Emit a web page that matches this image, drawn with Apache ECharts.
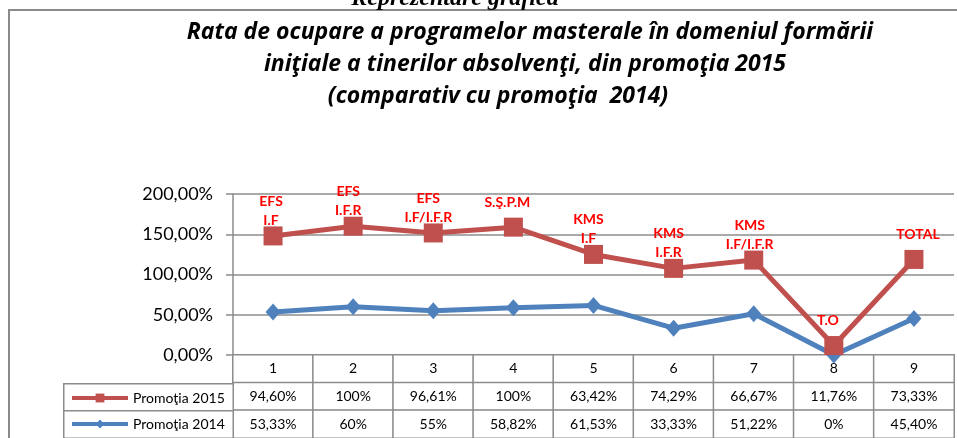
<!DOCTYPE html>
<html>
<head>
<meta charset="utf-8">
<script src="https://cdn.jsdelivr.net/npm/echarts@6/dist/echarts.min.js"></script>
<style>html,body{margin:0;padding:0;background:#fff;}#chart{width:957px;height:438px;}</style>
</head>
<body>
<div id="chart"></div>
<script>
// ---- data ----
const categories = ['1', '2', '3', '4', '5', '6', '7', '8', '9'];
const promotia2015 = [94.60, 100, 96.61, 100, 63.42, 74.29, 66.67, 11.76, 73.33];
const promotia2014 = [53.33, 60, 55, 58.82, 61.53, 33.33, 51.22, 0, 45.40];
const labels2015 = ['EFS\nI.F', 'EFS\nI.F.R', 'EFS\nI.F/I.F.R', 'S.Ş.P.M', 'KMS\nI.F', 'KMS\nI.F.R', 'KMS\nI.F/I.F.R', 'T.O', 'TOTAL'];
const seriesNames = ['Promoţia 2015', 'Promoţia 2014'];
const titleLines = [
  'Rata de ocupare a programelor masterale în domeniul formării',
  'iniţiale a tinerilor absolvenţi, din promoţia 2015',
  '(comparativ cu promoţia  2014)'
];
const headerText = 'Reprezentare grafică';

// ---- layout / style (not data) ----
const labelDx = [-2, -5, -5, -6, -5, -5, -4, -6, 4];
const RED = '#C0504D', BLUE = '#4F81BD', GRID = '#8c8c8c';
const FONT = 'Lato';
const TFONT = 'italic bold 23px "Open Sans"';

function fmtPct(v) {
  return (Number.isInteger(v) ? String(v) : v.toFixed(2).replace('.', ',')) + '%';
}

const tableData = [];
categories.forEach((c, i) => {
  tableData.push([i, 0, Number(c)]);
  tableData.push([i, 1, promotia2015[i]]);
  tableData.push([i, 2, promotia2014[i]]);
});

const chart = echarts.init(document.getElementById('chart'));
chart.setOption({
  animation: false,
  backgroundColor: '#fff',
  graphic: [
    { type: 'rect', shape: { x: 9, y: 10, width: 1000, height: 500 }, style: { fill: 'none', stroke: '#8a8a8a', lineWidth: 2 }, silent: true, z: 0 },
    { type: 'text', style: { text: headerText, x: 455, y: -1, textAlign: 'center', textVerticalAlign: 'middle', font: 'italic bold 24px "Liberation Serif"', fill: '#000' } },
    { type: 'text', style: { text: titleLines[0], x: 530, y: 32, textAlign: 'center', textVerticalAlign: 'middle', font: TFONT, fill: '#000' } },
    { type: 'text', style: { text: titleLines[1], x: 525, y: 64, textAlign: 'center', textVerticalAlign: 'middle', font: TFONT, fill: '#000' } },
    { type: 'text', style: { text: titleLines[2], x: 498, y: 96, textAlign: 'center', textVerticalAlign: 'middle', font: TFONT, fill: '#000' } }
  ],
  legend: {
    data: seriesNames,
    orient: 'vertical',
    left: 65,
    top: 386,
    height: 120,
    itemWidth: 56,
    itemHeight: 11,
    itemGap: 12,
    lineStyle: { width: 4 },
    textStyle: { fontFamily: FONT, fontSize: 14, color: '#000', lineHeight: 14 },
    selectedMode: false
  },
  grid: [
    { left: 233, right: 3, top: 194, height: 161 },
    { left: 233, right: 3, top: 355, height: 85 },
    { left: 64, width: 169, top: 384, height: 56 }
  ],
  xAxis: [
    { type: 'category', gridIndex: 0, data: categories, boundaryGap: true,
      axisLine: { show: true, lineStyle: { color: GRID, width: 1.5 } },
      axisTick: { show: false }, axisLabel: { show: false } },
    { type: 'category', gridIndex: 1, data: categories, show: false },
    { type: 'category', gridIndex: 2, data: ['x'], show: false }
  ],
  yAxis: [
    { type: 'value', gridIndex: 0, min: 0, max: 200, interval: 50,
      axisLine: { show: true, lineStyle: { color: GRID, width: 1.5 } },
      axisTick: { show: true, length: 7, lineStyle: { color: GRID, width: 1.5 } },
      splitLine: { show: true, lineStyle: { color: GRID, width: 1.5 } },
      axisLabel: { margin: 20, fontFamily: FONT, fontSize: 18, color: '#000',
        formatter: v => v.toFixed(2).replace('.', ',') + '%' } },
    { type: 'category', gridIndex: 1, data: ['h', 'a', 'b'], inverse: true, show: false },
    { type: 'category', gridIndex: 2, data: ['a', 'b'], inverse: true, show: false }
  ],
  series: [
    {
      name: seriesNames[1], type: 'line', stack: 'total', data: promotia2014,
      symbol: 'diamond', symbolSize: [15, 17],
      lineStyle: { color: BLUE, width: 5 }, itemStyle: { color: BLUE }, z: 3
    },
    {
      name: seriesNames[0], type: 'line', stack: 'total',
      data: promotia2015.map((v, i) => ({ value: v, label: { formatter: labels2015[i], offset: [labelDx[i], -25] } })),
      symbol: 'rect', symbolSize: 19,
      lineStyle: { color: RED, width: 5 }, itemStyle: { color: RED }, z: 4,
      label: { show: true, position: 'inside', color: '#FF0000', fontFamily: FONT, fontWeight: 'bold', fontSize: 14, lineHeight: 19 }
    },
    {
      type: 'heatmap', xAxisIndex: 1, yAxisIndex: 1, data: tableData,
      itemStyle: { color: '#fff', borderColor: GRID, borderWidth: 1.5 },
      label: { show: true, fontFamily: FONT, fontSize: 14, color: '#000',
        formatter: p => p.value[1] === 0 ? categories[p.value[0]] : fmtPct(p.value[2]) },
      emphasis: { disabled: true }, silent: true, z: 1
    },
    {
      type: 'heatmap', xAxisIndex: 2, yAxisIndex: 2, data: [[0, 0, 1], [0, 1, 1]],
      itemStyle: { color: '#fff', borderColor: GRID, borderWidth: 1.5 },
      label: { show: false }, emphasis: { disabled: true }, silent: true, z: 1
    }
  ]
});
</script>
</body>
</html>
